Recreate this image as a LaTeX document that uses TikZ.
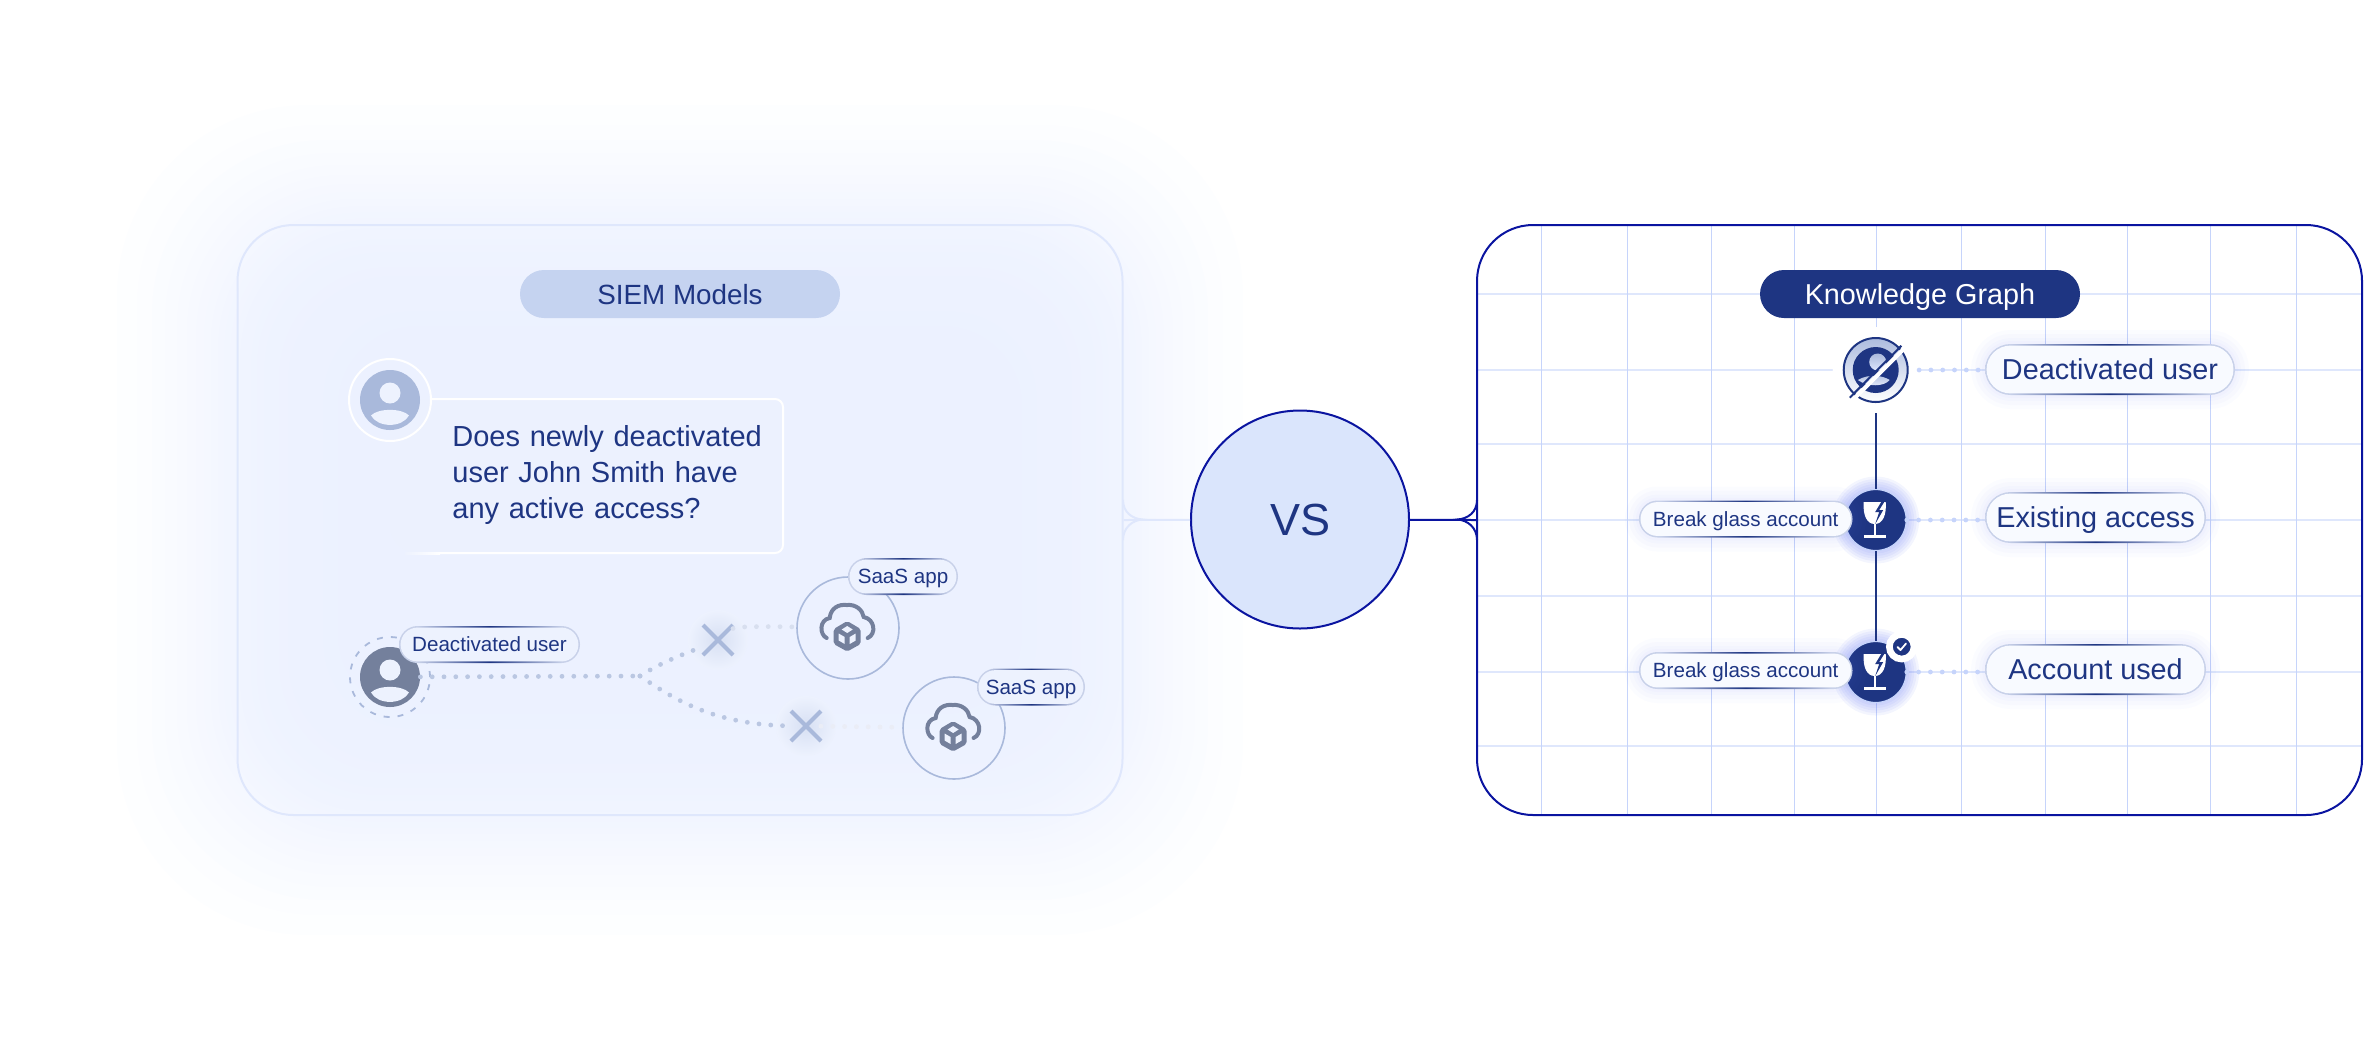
\documentclass[tikz,border=0pt]{standalone}
\usepackage{fontspec}
\setmainfont{Liberation Sans}
\usetikzlibrary{shapes.misc}
\definecolor{navy}{HTML}{1E3582}
\definecolor{edgeblue}{HTML}{0A14A0}
\definecolor{haloblue}{HTML}{E9EFFF}
\definecolor{panelbg}{HTML}{EDF2FE}
\definecolor{paleline}{HTML}{DFE7FC}
\definecolor{gridblue}{HTML}{C6D4FB}
\definecolor{softblue}{HTML}{A9B9DB}
\definecolor{icongrey}{HTML}{74809C}
\definecolor{pillrim}{HTML}{C8D1E9}
\definecolor{pillfill}{HTML}{F8FAFF}
\definecolor{glowblue}{HTML}{5B6FF2}
\definecolor{vsfill}{HTML}{DAE5FC}
\definecolor{siemfill}{HTML}{C5D3F0}
\pgfdeclarehorizontalshading{pillshade}{100bp}{color(0bp)=(pillrim); color(30bp)=(pillrim); color(50bp)=(navy); color(70bp)=(pillrim); color(100bp)=(pillrim)}
\tikzset{
  textfont/.style = {text=navy, font=\fontsize{#1}{#1}\selectfont, text height=#1pt*.72, text depth=0pt},
  titlepill/.style = {rounded rectangle, inner sep=0pt, minimum width=160pt, minimum height=24pt},
  panelbox/.style = {rectangle, rounded corners=28pt, minimum width=442.5pt, minimum height=295pt, line width=1pt},
  pillbox/.style = {rounded rectangle, inner sep=0pt, shading=pillshade, shade,
    path picture={\fill[#1] ([shift={(.8pt,-.8pt)}]path picture bounding box.north west)
      rectangle ([shift={(-.8pt,.8pt)}]path picture bounding box.south east);}},
  smallpill/.style = {pillbox={fill=#1, rounded corners=8.4pt}, minimum height=18.5pt, textfont=10.3},
  bigpill/.style = {pillbox={fill=#1, rounded corners=11.9pt}, minimum height=25.5pt, textfont=14.4},
  softring/.style = {preaction={draw=glowblue, draw opacity=.022, line width=#1}},
  glowring/.style = {preaction={draw=glowblue, draw opacity=.07, line width=#1}},
  softglow/.style = {softring/.list={14pt,10pt,6pt,3pt}},
  glassnode/.style = {circle, inner sep=0pt, minimum size=30.5pt, fill=navy, draw=gridblue, line width=.6pt,
    glowring/.list={13pt,10.5pt,8pt,5.5pt,3pt}},
  avatarnode/.style = {circle, inner sep=0pt, minimum size=30pt, fill=#1},
  saasnode/.style = {circle, inner sep=0pt, minimum size=51pt, draw=softblue, line width=.8pt},
  crossnode/.style = {cross out, draw=softblue, line width=2pt, inner sep=0pt, minimum size=13pt},
  dotline/.style = {draw=#1, line width=2.4pt, line cap=round, dash pattern=on 0pt off 5.9pt},
  personicon/.pic = {
    \fill[panelbg] (0,-7) circle[radius=10.5];
    \fill[panelbg] (-19,15.5) .. controls (-12,8) and (12,8) .. (19,15.5)
      .. controls (12,28) and (-12,28) .. cycle;
  },
  cloudicon/.pic = {
    \draw[icongrey, line width=2pt, line cap=round] (-20,10) .. controls (-27,7) and (-28,-8) .. (-17,-10)
      .. controls (-16,-20) and (-8,-24) .. (0,-23) .. controls (9,-24) and (16,-18) .. (17,-11)
      .. controls (28,-9) and (30,6) .. (21,10);
    \fill[icongrey, rounded corners=1pt] (.5,-7) -- (14,1) -- (14,16) -- (.5,23.5) -- (-13,16) -- (-13,1) -- cycle;
    \fill[panelbg] (.5,-2) -- (6,1.5) -- (.5,5) -- (-5,1.5) -- cycle;
    \fill[panelbg] (-8,5.5) -- (-2,9) -- (-2,16) -- (-8,12.5) -- cycle;
    \fill[panelbg] (3,9) -- (9,5.5) -- (9,12.5) -- (3,16) -- cycle;
  },
  glassicon/.pic = {
    \fill[white] (-12,-18) -- (10,-18) .. controls (11,-5) and (7,4) .. (-1,4) .. controls (-9,4) and (-13,-5) .. cycle;
    \fill[white] (-2.2,3) rectangle (.2,15);
    \fill[white] (-12,15) rectangle (10,18);
    \fill[navy] (5.5,-18) -- (-.5,-8) -- (3.5,-8) -- (-.5,4) -- (7.5,-10) -- (3.5,-10) -- (8.5,-18) -- cycle;
  },
  officon/.pic = {
    \fill[navy] (0,0) circle[radius=23];
    \shade[top color=softblue, bottom color=gridblue!60] (2,-8) circle[radius=8.5];
    \shade[top color=softblue, bottom color=gridblue!40] (-18,10) .. controls (-6,3) and (8,6) .. (14,10)
      .. controls (8,17) and (-8,17) .. cycle;
    \draw[white, line width=2pt] (-20,27) -- (28,-21);
    \draw[navy, line width=1pt] (-26,27.7) -- (25.7,-24.3);
  }
}

\begin{document}
\begin{tikzpicture}[x=.5pt,y=-.5pt]
  \useasboundingbox (0,0) rectangle (2364,1040);

  % soft halo behind the left panel
  \foreach \d [evaluate=\d as \r using {65+\d/4}] in {120,100,85,72,60,50,41,33,26,19,13,7,2,-3,-8,-14,-20,-27,-34,-42,-51,-61,-73,-86,-101,-120}
    \fill[haloblue, fill opacity=.075, rounded corners=\r pt] (237-\d,225-\d) rectangle (1123+\d,815+\d);

  \node[panelbox, draw=paleline] (siempanel) at (680,520) {};
  \begin{scope}
    \clip[rounded corners=28pt] (1477,225) rectangle (2362,815);
    \foreach \gy in {294,370,444,520,596,672,746}
      \draw[paleline, line width=1.25pt] (1477,\gy) -- (2364,\gy);
    \foreach \gx in {1541,1627,1711,1794,1876,1961,2045,2127,2210,2296}
      \draw[gridblue, line width=.5pt] (\gx,225) -- (\gx,815);
  \end{scope}
  \node[panelbox, draw=edgeblue] (graphpanel) at (1919.5,520) {};

  \node[circle, inner sep=0pt, minimum size=109pt, fill=vsfill, draw=edgeblue, line width=1pt, textfont=22.5] (vs) at (1300,519.5) {VS};
  \draw[paleline, line width=1pt] (siempanel.east) -- (vs);
  \draw[edgeblue, line width=1pt] (vs) -- (graphpanel.west);
  % forks where the panels meet the line
  \draw[paleline, line width=1pt] (1123,500) .. controls (1123,512) and (1132,519) .. (1143,519.5) .. controls (1132,520) and (1123,528) .. (1123,540);
  \draw[edgeblue, line width=1pt] (1477,500) .. controls (1477,512) and (1468,519) .. (1457,519.5) .. controls (1468,520) and (1477,528) .. (1477,540);

  \node[titlepill, fill=siemfill, textfont=13.9] (siemtitle) at (680,294) {SIEM Models};
  \node[titlepill, fill=navy, textfont=14.4, text=white] (graphtitle) at (1920,294) {Knowledge Graph};

  % question box
  \fill[panelbg, fill opacity=.6, rounded corners=4pt] (400,399) -- (783,399) -- (783,553) -- (425,553) [rounded corners=14pt] -- (390,553) -- (390,399) -- cycle;
  \draw[white, line width=1pt, rounded corners=4pt] (431,399) -- (783,399) -- (783,553) -- (440,553);
  \shade[left color=panelbg, right color=white] (405,552) rectangle (440,554);
  \node[anchor=west, align=left, inner sep=0pt, text width=165pt, text=navy, font=\fontsize{14.5}{18}\selectfont] (question) at (452,475)
    {Does newly deactivated\\user John Smith have\\any active access?};
  \node[avatarnode=softblue] (askavatar) at (390,400) {};
  \node[circle, inner sep=0pt, minimum size=41pt, draw=white, line width=1pt] (askring) at (askavatar) {};
  \pic at (askavatar) {personicon};

  % deactivated user and the apps
  \node[circle, inner sep=0pt, minimum size=40pt, draw=softblue, line width=.9pt, dash pattern=on 3pt off 4pt] (userring) at (390,677) {};
  \node[avatarnode=icongrey] (useravatar) at (390,677) {};
  \pic at (useravatar) {personicon};
  \shade[inner color=softblue!32!panelbg, outer color=panelbg] (718,640) circle[radius=30];
  \shade[inner color=softblue!32!panelbg, outer color=panelbg] (806,726) circle[radius=30];
  \node[crossnode] (xa) at (718,640) {};
  \node[crossnode] (xb) at (806,726) {};
  \node[saasnode] (saasa) at (848,628) {};
  \node[saasnode] (saasb) at (954,728) {};
  \pic at (846.7,628) {cloudicon};
  \pic at (952.6,728) {cloudicon};
  \coordinate (fork) at (640,676);
  \draw[dotline=softblue!80] (useravatar) -- (fork);
  \draw[dotline=softblue!80] (fork) .. controls (665,660) and (690,652) .. (xa);
  \draw[dotline=softblue!80] (fork) .. controls (675,700) and (715,725) .. (xb);
  \draw[dotline=softblue!45] (xa) .. controls (735,627) and (750,626) .. (saasa);
  \draw[dotline=softblue!25] (xb) -- (saasb);
  \node[smallpill=panelbg, minimum width=90.5pt] (userpill) at (489.5,644.5) {Deactivated user};
  \node[smallpill=panelbg, minimum width=55pt] (saaspilla) at (903,576.5) {SaaS app};
  \node[smallpill=panelbg, minimum width=54pt] (saaspillb) at (1031,687) {SaaS app};

  % graph nodes
  \node[circle, inner sep=0pt, minimum size=43pt, fill=white] (offhalo) at (1875.7,370) {};
  \node[circle, inner sep=0pt, minimum size=32pt, draw=navy, line width=1pt, top color=softblue!90!gridblue, bottom color=white] (offnode) at (1875.7,370) {};
  \pic at (offnode) {officon};
  \node[glassnode] (glassa) at (1875.7,520) {};
  \node[glassnode] (glassb) at (1875.7,672) {};
  \pic at (glassa) {glassicon};
  \pic at (glassb) {glassicon};
  \draw[navy, line width=1pt] (offhalo) -- (glassa);
  \draw[navy, line width=1pt] (glassa) -- (glassb);
  \node[circle, inner sep=0pt, minimum size=12.35pt, fill=navy, draw=white, line width=3.35pt] (badge) at (1901.7,646.7) {};
  \draw[white, line width=.9pt, line cap=round, line join=round] (1897.5,647) -- (1900.5,650) -- (1906,643.5);

  \node[bigpill=pillfill, softglow, minimum width=125pt] (userlabel) at (2110,369.5) {Deactivated user};
  \node[bigpill=pillfill, softglow, minimum width=110.5pt] (accesslabel) at (2095.5,517.5) {Existing access};
  \node[bigpill=pillfill, softglow, minimum width=110.5pt] (usedlabel) at (2095.5,669.5) {Account used};
  \node[smallpill=pillfill, softglow, minimum width=106.8pt] (breaka) at (1745.7,519) {Break glass account};
  \node[smallpill=pillfill, softglow, minimum width=106.8pt] (breakb) at (1745.7,670.5) {Break glass account};

  \foreach \from/\to in {offhalo/userlabel,glassa/accesslabel,glassb/usedlabel}
    \draw[dotline=gridblue] (\from.east) -- (\from.east -| \to.west);
\end{tikzpicture}
\end{document}
